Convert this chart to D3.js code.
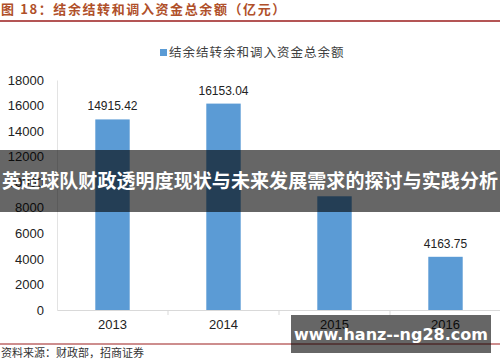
<!DOCTYPE html>
<html>
<head>
<meta charset="utf-8">
<script src="https://cdn.jsdelivr.net/npm/d3@7"></script>
<style>
  body { margin: 0; background: #fff; }
  svg { display: block; }
</style>
</head>
<body>
<div id="chart"></div>
<script>
const width = 500,
  height = 362,
  margin = { top: 80, bottom: 52, left: 57, right: -1 };

const years = ["2013", "2014", "2015", "2016"];
const balances = [14915.42, 16153.04, 8900, 4163.75];
// 2015 label is hidden under the banner in the source image
const balanceLabels = ["14915.42", "16153.04", "", "4163.75"];
const yTicks = [0, 2000, 4000, 6000, 8000, 10000, 12000, 14000, 16000, 18000];

const seriesName = "结余结转余和调入资金总余额";
const titleText = "图 18：结余结转和调入资金总余额（亿元）";
const sourceText = "资料来源：财政部，招商证券";
const bannerText = "英超球队财政透明度现状与未来发展需求的探讨与实践分析";
const watermark = "www.hanz--ng28.com";

const cjk = "'Noto Sans CJK SC', sans-serif";
const latin = "'Liberation Sans', Arial, sans-serif";

const svg = d3.select("#chart")
  .append("svg")
  .attr("width", width)
  .attr("height", height);

const xScale = d3.scaleBand()
  .domain(years)
  .range([margin.left, width - margin.right])
  .padding(0);

const yScale = d3.scaleLinear()
  .domain([0, 18000])
  .range([height - margin.bottom, margin.top]);

// title + rule
svg.append("text")
  .attr("x", 1)
  .attr("y", 14)
  .attr("font-family", cjk)
  .attr("font-size", 13)
  .attr("font-weight", "bold")
  .attr("letter-spacing", 1.6)
  .attr("fill", "#b0502a")
  .text(titleText);

svg.append("line")
  .attr("x1", 0).attr("x2", width)
  .attr("y1", 21).attr("y2", 21)
  .attr("stroke", "#9b1c1c")
  .attr("stroke-width", 1.5);

// legend
svg.append("rect")
  .attr("x", 160).attr("y", 49)
  .attr("width", 7).attr("height", 7)
  .attr("fill", "#5b9bd5");

svg.append("text")
  .attr("x", 169)
  .attr("y", 57)
  .attr("font-family", cjk)
  .attr("font-size", 12.5)
  .attr("letter-spacing", 1)
  .attr("fill", "#404040")
  .text(seriesName);

// y axis
const yAxis = d3.axisLeft(yScale)
  .tickValues(yTicks)
  .tickSize(0)
  .tickPadding(13)
  .tickFormat(d3.format("d"));

svg.append("g")
  .attr("transform", `translate(${margin.left},0)`)
  .call(yAxis)
  .call(g => g.select(".domain").attr("stroke", "#e3e3e3"))
  .call(g => g.selectAll("text")
    .attr("font-family", latin)
    .attr("font-size", 13)
    .attr("fill", "#222"));

// x axis
const xAxis = d3.axisBottom(xScale)
  .tickSize(0)
  .tickPadding(10);

const gx = svg.append("g")
  .attr("transform", `translate(0,${yScale(0)})`)
  .call(xAxis)
  .call(g => g.select(".domain").attr("stroke", "#d9d9d9"))
  .call(g => g.selectAll("text")
    .attr("font-family", latin)
    .attr("font-size", 13)
    .attr("fill", "#222"));

gx.selectAll(".sep")
  .data(years)
  .join("line")
  .attr("class", "sep")
  .attr("x1", d => xScale(d) + xScale.bandwidth())
  .attr("x2", d => xScale(d) + xScale.bandwidth())
  .attr("y1", 0).attr("y2", 5)
  .attr("stroke", "#d9d9d9");

// bars
const barW = xScale.bandwidth() * 0.31;

svg.selectAll(".bar")
  .data(years)
  .join("rect")
  .attr("class", "bar")
  .attr("x", d => xScale(d) + (xScale.bandwidth() - barW) / 2)
  .attr("y", (d, i) => yScale(balances[i]))
  .attr("width", barW)
  .attr("height", (d, i) => yScale(0) - yScale(balances[i]))
  .attr("fill", "#5b9bd5");

svg.selectAll(".val")
  .data(years.filter((d, i) => balanceLabels[i] !== ""))
  .join("text")
  .attr("class", "val")
  .attr("x", d => xScale(d) + xScale.bandwidth() / 2)
  .attr("y", d => yScale(balances[years.indexOf(d)]) - 9)
  .attr("text-anchor", "middle")
  .attr("font-family", latin)
  .attr("font-size", 12)
  .attr("fill", "#222")
  .text(d => balanceLabels[years.indexOf(d)]);

// bottom rule + source
svg.append("line")
  .attr("x1", 0).attr("x2", width)
  .attr("y1", 344).attr("y2", 344)
  .attr("stroke", "#9b1c1c")
  .attr("stroke-width", 1);

svg.append("text")
  .attr("x", 1)
  .attr("y", 357)
  .attr("font-family", cjk)
  .attr("font-size", 11)
  .attr("fill", "#333")
  .text(sourceText);

// overlay banner
svg.append("rect")
  .attr("x", 0).attr("y", 150)
  .attr("width", width).attr("height", 62)
  .attr("fill", "rgba(0,0,0,0.6)");

svg.append("text")
  .attr("x", width / 2)
  .attr("y", 188)
  .attr("text-anchor", "middle")
  .attr("font-family", cjk)
  .attr("font-size", 19)
  .attr("font-weight", "bold")
  .attr("textLength", 496)
  .attr("fill", "#fff")
  .text(bannerText);

// watermark box
svg.append("rect")
  .attr("x", 291).attr("y", 315)
  .attr("width", 200).attr("height", 38)
  .attr("fill", "rgba(0,0,0,0.6)");

svg.append("text")
  .attr("x", 391)
  .attr("y", 340)
  .attr("text-anchor", "middle")
  .attr("font-family", "'DejaVu Sans', sans-serif")
  .attr("font-size", 16)
  .attr("font-weight", "bold")
  .attr("fill", "#fff")
  .text(watermark);
</script>
</body>
</html>
